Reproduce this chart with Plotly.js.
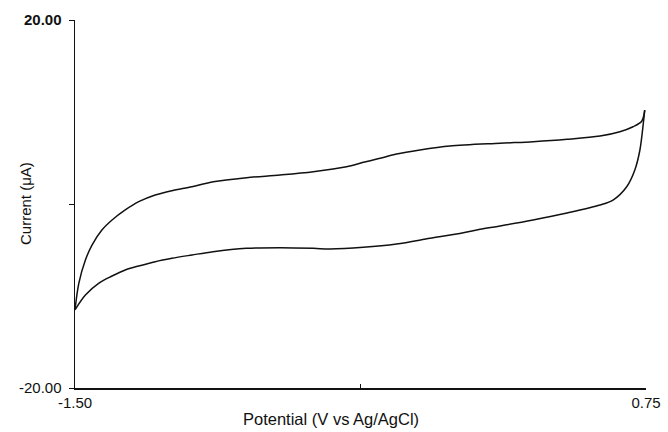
<!DOCTYPE html>
<html>
<head>
<meta charset="utf-8">
<script src="https://cdn.plot.ly/plotly-3.0.1.min.js"></script>
<style>html,body{margin:0;padding:0;background:#fff;}#chart{width:668px;height:432px;}</style>
</head>
<body>
<div id="chart"></div>
<script>
// Forward sweep (upper branch), potential in V vs Ag/AgCl, current in µA
const potentialForward = [-1.5, -1.485, -1.459, -1.433, -1.394, -1.354, -1.302, -1.249, -1.184, -1.118, -1.039, -0.955, -0.824, -0.692, -0.561, -0.430, -0.364, -0.298, -0.233, -0.141, -0.023, 0.175, 0.305, 0.439, 0.569, 0.647, 0.699, 0.733, 0.745];
const currentForward   = [-11.5, -8.62, -6.09, -4.46, -2.83, -1.74, -0.65, 0.25, 0.98, 1.45, 1.88, 2.42, 2.86, 3.15, 3.51, 4.05, 4.53, 4.97, 5.43, 5.87, 6.30, 6.60, 6.77, 7.03, 7.39, 7.86, 8.40, 9.00, 10.2];
// Reverse sweep (lower branch)
const potentialReverse = [0.745, 0.740, 0.726, 0.706, 0.674, 0.620, 0.569, 0.439, 0.305, 0.175, 0.096, 0.030, -0.101, -0.233, -0.364, -0.495, -0.561, -0.692, -0.824, -0.956, -1.039, -1.118, -1.184, -1.249, -1.302, -1.354, -1.407, -1.459, -1.5];
const currentReverse   = [10.2, 8.91, 5.87, 3.70, 1.88, 0.43, -0.11, -0.98, -1.74, -2.39, -2.75, -3.12, -3.73, -4.35, -4.71, -4.89, -4.82, -4.75, -4.82, -5.18, -5.54, -5.90, -6.27, -6.74, -7.17, -7.83, -8.62, -9.89, -11.5];

const xTickVals = [-1.5, -0.375, 0.75];
const xTickText = ['-1.50', '', '0.75'];
const yTickVals = [-20, 0, 20];
const yTickText = ['-20.00', '', '<b>20.00</b>'];

const font = 'Liberation Sans, Arial, sans-serif';
const lineStyle = {color: '#111', width: 1.5, shape: 'spline', smoothing: 0.9};

const traces = [
  {x: potentialForward, y: currentForward, mode: 'lines', line: lineStyle, hoverinfo: 'skip'},
  {x: potentialReverse, y: currentReverse, mode: 'lines', line: lineStyle, hoverinfo: 'skip'}
];

const layout = {
  width: 668, height: 432,
  margin: {l: 75, r: 22, t: 20, b: 44},
  paper_bgcolor: '#fff', plot_bgcolor: '#fff',
  showlegend: false,
  font: {family: font, color: '#111'},
  xaxis: {
    range: [-1.5, 0.75], showgrid: false, zeroline: false,
    showline: true, linecolor: '#111', linewidth: 1.5,
    tickmode: 'array', tickvals: xTickVals, ticktext: xTickText,
    ticks: 'inside', ticklen: 4, tickcolor: '#111',
    tickfont: {size: 15, family: font, color: '#111'}
  },
  yaxis: {
    range: [-20, 20], showgrid: false, zeroline: false,
    showline: true, linecolor: '#111', linewidth: 1.5,
    tickmode: 'array', tickvals: yTickVals, ticktext: yTickText,
    ticks: 'outside', ticklen: 5, tickcolor: '#111', ticklabelstandoff: 4,
    tickfont: {size: 15, family: font, color: '#111'}
  },
  annotations: [
    {
      text: 'Potential (V vs Ag/AgCl)', xref: 'paper', yref: 'paper',
      x: 0.448, y: 0, yshift: -31, xanchor: 'center', yanchor: 'middle', showarrow: false,
      font: {size: 16.5, family: font, color: '#111'}
    },
    {
      text: 'Current (μA)', xref: 'paper', yref: 'paper',
      x: -0.0875, y: 0.5, xanchor: 'center', yanchor: 'middle', textangle: -90, showarrow: false,
      font: {size: 15, family: font, color: '#111'}
    }
  ]
};

Plotly.newPlot('chart', traces, layout, {displayModeBar: false, staticPlot: true});
</script>
</body>
</html>
